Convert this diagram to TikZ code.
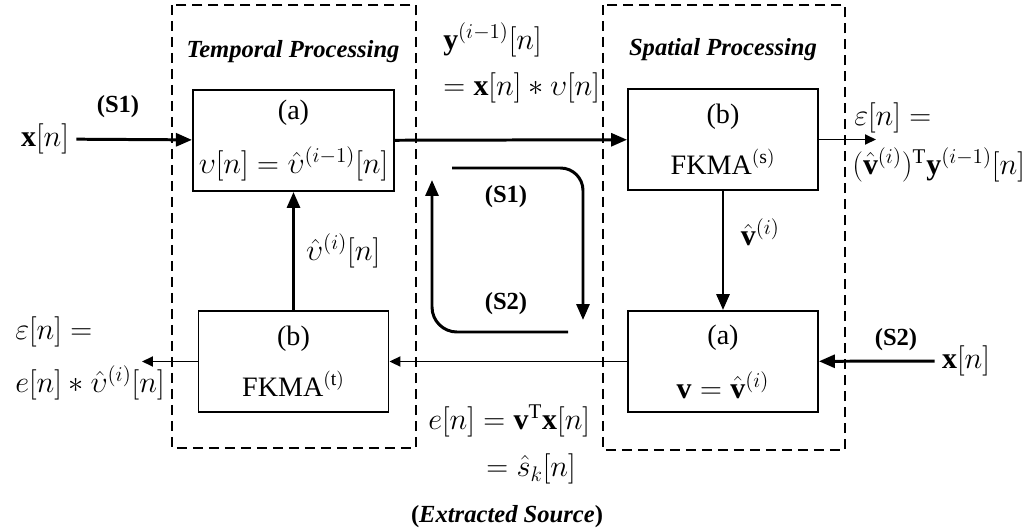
\documentclass[tikz,border=0pt]{standalone}
\usepackage{fontspec}
\setmainfont{Liberation Serif}
\usetikzlibrary{arrows.meta}

\newcommand{\bigmath}{\fontsize{17}{19}\selectfont}

\tikzset{
	block/.style={draw, line width=1.1pt, minimum width=3.8cm, minimum height=2.02cm, align=center, font=\fontsize{16}{18}\selectfont},
	area/.style={draw, line width=1.1pt, dash pattern=on 0.2cm off 0.12cm},
	thin arrow/.style={line width=1.1pt, -{Triangle[length=0.22cm, width=0.2cm]}},
	note/.style={anchor=west, font=\bigmath, inner sep=1pt},
}

\begin{document}
\begin{tikzpicture}[x=0.02cm, y=-0.02cm, font=\fontsize{14}{16}\selectfont, line width=1.7pt, arrows={-Triangle[length=0.32cm, width=0.26cm]}]
	\useasboundingbox (0,0) rectangle (1036,531);
	\draw[area, -] (172,5) rectangle (416,448);
	\draw[area, -] (603,5) rectangle (845,450);
	\node (TT) at (293,52) {\textbf{\textit{Temporal Processing}}};
	\node (ST) at (723,50) {\textbf{\textit{Spatial Processing}}};
	\node[block] (Ta) at (293.5,140.5) {(a)\\[11pt]{\bigmath$\upsilon[n]=\hat{\upsilon}^{(i-1)}[n]$}};
	\node[block] (Tb) at (293.5,361.5) {(b)\\[11pt]FKMA$^{\mathrm{(t)}}$};
	\node[block] (Sb) at (723,139.5) {(b)\\[11pt]FKMA$^{\mathrm{(s)}}$};
	\node[block] (Sa) at (723,361.5) {(a)\\[11pt]{\bigmath$\mathbf{v}=\hat{\mathbf{v}}^{(i)}$}};
	\node[font=\bigmath] (X1) at (45,139) {$\mathbf{x}[n]$};
	\node[font=\bigmath] (X2) at (966,361) {$\mathbf{x}[n]$};
	\coordinate (E1) at (876,139.5);
	\coordinate (E2) at (142,361.5);
	\coordinate (L1) at (452,168);
	\coordinate (L2) at (583,320);
	\coordinate (L3) at (568,332);
	\coordinate (L4) at (432,180);
	\node (S1a) at (118,107) {\textbf{(S1)}};
	\node (S2a) at (896,340) {\textbf{(S2)}};
	\node (S1b) at (506,197) {\textbf{(S1)}};
	\node (S2b) at (506,304) {\textbf{(S2)}};
	\draw (X1) to (Ta);
	\draw (Ta) to (Sb);
	\draw (X2) to (Sa);
	\draw (Tb) to node [right=3pt, font=\bigmath] {$\hat{\upsilon}^{(i)}[n]$} (Ta);
	\draw (Sb) to node [right=6pt, pos=0.35, font=\bigmath] {$\hat{\mathbf{v}}^{(i)}$} (Sa);
	\draw[thin arrow] (Sa) to (Tb);
	\draw[thin arrow] (Sb) to (E1);
	\draw[thin arrow] (Tb) to (E2);
	\draw[rounded corners=0.45cm] (L1) -| (L2);
	\draw[rounded corners=0.5cm] (L3) -| (L4);
	\node[note] (Y1) at (440,40) {$\mathbf{y}^{(i-1)}[n]$};
	\node[note] (Y2) at (440,88) {$=\mathbf{x}[n]\ast\upsilon[n]$};
	\node[note] (R1) at (851,118) {$\varepsilon[n]=$};
	\node[note] (R2) at (849,165) {$(\hat{\mathbf{v}}^{(i)})^{\mathrm{T}}\mathbf{y}^{(i-1)}[n]$};
	\node[note] (P1) at (12,332) {$\varepsilon[n]=$};
	\node[note] (P2) at (12,383) {$e[n]\ast\hat{\upsilon}^{(i)}[n]$};
	\node[note] (B1) at (425,421) {$e[n]=\mathbf{v}^{\mathrm{T}}\mathbf{x}[n]$};
	\node[note] (B2) at (483,469) {$=\hat{s}_k[n]$};
	\node (ES) at (507,517) {\textbf{(\textit{Extracted Source})}};
\end{tikzpicture}
\end{document}
